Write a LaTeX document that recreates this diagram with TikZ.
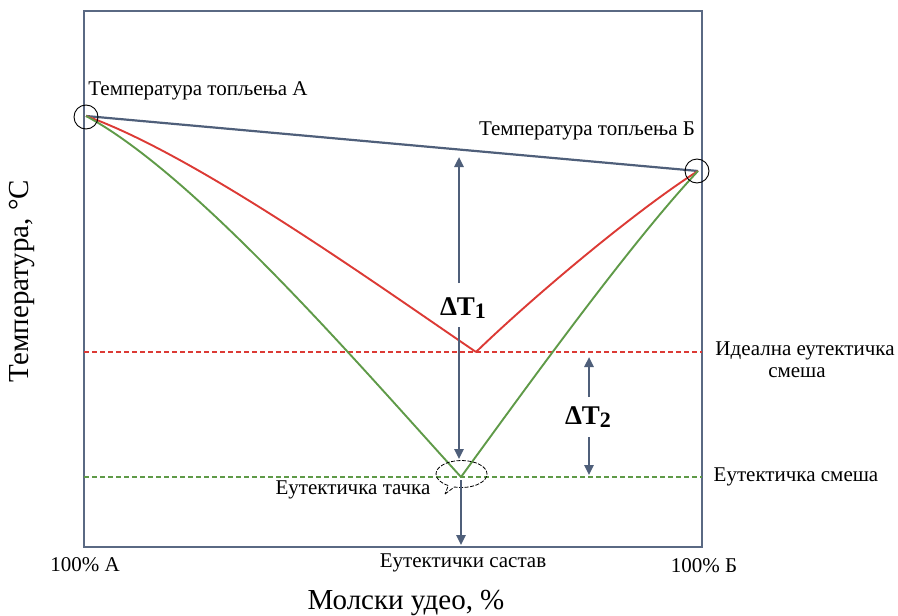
\documentclass[tikz,border=0pt]{standalone}
\usepackage{fontspec}
\setmainfont{Liberation Serif}
\usetikzlibrary{shapes.callouts,arrows.meta}
\definecolor{slate}{HTML}{4F5F7A}
\definecolor{framec}{HTML}{5A6983}
\definecolor{redc}{HTML}{DC3A35}
\definecolor{greenc}{HTML}{5F9A48}
\begin{document}
\begin{tikzpicture}[x=1pt,y=-1pt,
  lbl/.style={font=\fontsize{21}{24}\selectfont, inner sep=0pt, text=black},
  axl/.style={font=\fontsize{29}{32}\selectfont, inner sep=0pt, text=black},
  dlt/.style={font=\fontsize{27}{30}\selectfont\bfseries, inner sep=0pt, text=black},
  arr/.style={draw=slate, line width=2.4pt, -{Triangle[length=10pt,width=9pt]}},
  curv/.style={line width=1.9pt},
  dashln/.style={line width=1.5pt, dash pattern=on 5pt off 3pt},
  ringc/.style={draw=black, line width=0.9pt, circle, minimum size=24pt, inner sep=0pt}
]
\useasboundingbox (0,0) rectangle (898,616);

% frame
\draw[framec, line width=2.7pt] (84,11) rectangle (702,547);

% key points
\coordinate (A) at (86,116);
\coordinate (B) at (698,171);
\coordinate (E1) at (476,352);
\coordinate (E2) at (461,477);
\coordinate (r1l) at (84,352);
\coordinate (r1r) at (702,352);
\coordinate (g1l) at (84,477);
\coordinate (g1r) at (702,477);

% dashed lines
\draw[redc, dashln] (r1l) -- (r1r);
\draw[greenc, dashln] (g1l) -- (g1r);

% ideal line
\draw[slate, line width=2.2pt] (A) -- (B);

% red curves
\draw[redc, curv] (A) .. controls (196,155) and (376,284) .. (E1);
\draw[redc, curv] (E1) .. controls (536,294) and (638,209) .. (B);
% green curves
\draw[greenc, curv] (A) .. controls (196,175) and (361,367) .. (E2);
\draw[greenc, curv] (E2) .. controls (526,388) and (628,246) .. (B);

% circles
\node[ringc] (ca) at (86,117) {};
\node[ringc] (cb) at (697,171) {};

% callout
\node[ellipse callout, draw=black, line width=0.8pt, dash pattern=on 4pt off 1.5pt,
  minimum width=51pt, minimum height=27pt,
  callout absolute pointer={(445,494)}] (ec) at (461.5,474) {};

% arrows
\coordinate (d1a) at (459,283);
\coordinate (d1b) at (459,157);
\coordinate (d1c) at (459,327);
\coordinate (d1d) at (459,459);
\coordinate (d3a) at (461,480);
\coordinate (d3b) at (461,545);
\coordinate (d2a) at (589,397);
\coordinate (d2b) at (589,357);
\coordinate (d2c) at (589,437);
\coordinate (d2d) at (589,475);
\draw[arr] (d1a) -- (d1b);
\draw[arr] (d1c) -- (d1d);
\draw[arr] (d3a) -- (d3b);
\draw[arr] (d2a) -- (d2b);
\draw[arr] (d2c) -- (d2d);

% delta labels
\node[dlt] (dt1) at (463,308) {ΔT\raisebox{-0.3ex}{\fontsize{22}{24}\selectfont 1}};
\node[dlt] (dt2) at (588,417) {ΔT\raisebox{-0.3ex}{\fontsize{22}{24}\selectfont 2}};

% labels
\node[lbl] (ta) at (198,91) {Температура топљења А};
\node[lbl] (tb) at (587,131) {Температура топљења Б};
\node[lbl] (ie1) at (805,351) {Идеална еутектичка};
\node[lbl] (ie2) at (797,373) {смеша};
\node[lbl] (es) at (796,477) {Еутектичка смеша};
\node[lbl] (et) at (353,490) {Еутектичка тачка};
\node[lbl] (esa) at (463,563) {Еутектички састав};
\node[lbl] (pa) at (85,565) {100\% А};
\node[lbl] (pb) at (704,566) {100\% Б};
\node[axl] (xl) at (406,603) {Молски удео, \%};
\node[axl, rotate=90] (yl) at (22,281) {Температура, °C};
\end{tikzpicture}
\end{document}
